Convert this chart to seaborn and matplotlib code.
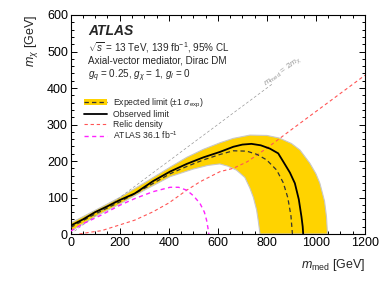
import numpy as np
import matplotlib
matplotlib.use('Agg')
import matplotlib.pyplot as plt
import seaborn as sns
from matplotlib.patches import Patch
from matplotlib.lines import Line2D

# Observed limit
obs_x = [0, 50, 100, 150, 200, 261, 336, 405, 473, 541, 609, 663, 700, 737, 775, 812, 846, 867, 894, 914, 930, 941, 946, 948]
obs_y = [23, 40, 60, 76, 93, 111, 145, 171, 192, 210, 225, 239, 245, 247, 243, 234, 221, 198, 168, 139, 95, 47, 20, 0]

# Expected limit
exp_x = [0, 100, 200, 300, 405, 473, 541, 609, 663, 718, 760, 799, 840, 867, 885, 898, 904]
exp_y = [18, 55, 88, 125, 165, 185, 203, 218, 228, 227, 218, 203, 175, 140, 100, 50, 0]

# +-1 sigma band: upper edge (left to right), lower edge (right to left)
band_up_x = [0, 100, 200, 300, 405, 473, 541, 609, 663, 731, 800, 850, 900, 935, 975, 1000, 1016, 1035, 1043, 1047]
band_up_y = [30, 65, 100, 140, 183, 210, 232, 250, 262, 271, 270, 263, 248, 230, 194, 165, 139, 90, 47, 0]
band_lo_x = [772, 765, 758, 745, 731, 710, 676, 640, 608, 560, 500, 405, 300, 200, 100, 0]
band_lo_y = [0, 35, 66, 100, 125, 155, 175, 186, 192, 188, 178, 157, 120, 82, 48, 8]

# Relic density
relic_x = [35, 80, 125, 200, 261, 336, 400, 473, 527, 609, 663, 720, 799, 894, 1200]
relic_y = [0, 5, 9, 25, 38, 61, 85, 120, 143, 171, 180, 198, 235, 283, 435]

# ATLAS 36.1 fb-1
old_x = [0, 50, 125, 201, 261, 336, 405, 440, 473, 500, 527, 545, 554, 560, 563]
old_y = [8, 28, 52, 79, 97, 116, 128, 128, 120, 105, 84, 60, 38, 15, 0]

# m_med = 2 m_chi line
diag_x = [0, 820]
diag_y = [0, 410]

sns.set_theme(style='ticks')
plt.rcParams['font.family'] = ['Liberation Sans', 'DejaVu Sans']
plt.rcParams['mathtext.fontset'] = 'custom'
plt.rcParams['mathtext.rm'] = 'Liberation Sans'
plt.rcParams['mathtext.it'] = 'Liberation Sans:italic'
plt.rcParams['mathtext.bf'] = 'Liberation Sans:bold'

YELLOW = '#FFD300'
RED = '#FF5555'
MAGENTA = '#FF22FF'

fig = plt.figure(figsize=(3.9, 2.83), dpi=100)
ax = fig.add_axes([0.1813, 0.1731, 0.7546, 0.7739])

# band
ax.fill(band_up_x + band_lo_x, band_up_y + band_lo_y, facecolor=YELLOW, edgecolor='#C8C8C8', linewidth=0.8, zorder=1)

sns.lineplot(x=diag_x, y=diag_y, ax=ax, color='#999999', linewidth=0.5, linestyle=(0, (4, 3)), sort=False, estimator=None, zorder=2)
sns.lineplot(x=relic_x, y=relic_y, ax=ax, color=RED, linewidth=0.8, linestyle=(0, (3, 2.5)), sort=False, estimator=None, zorder=3)
sns.lineplot(x=old_x, y=old_y, ax=ax, color=MAGENTA, linewidth=1.0, linestyle=(0, (3, 2.5)), sort=False, estimator=None, zorder=3)
sns.lineplot(x=exp_x, y=exp_y, ax=ax, color='#333333', linewidth=0.9, linestyle=(0, (3.5, 2.5)), sort=False, estimator=None, zorder=4)
sns.lineplot(x=obs_x, y=obs_y, ax=ax, color='black', linewidth=1.3, sort=False, estimator=None, zorder=5)

ax.text(866, 446, r'$m_{\rm med}$ = 2$m_\chi$', rotation=36.6, fontsize=6, color='#999999', ha='center', va='center', rotation_mode='anchor')

ax.set_xlim(0, 1200)
ax.set_ylim(0, 600)
ax.set_xticks(np.arange(0, 1201, 200))
ax.set_yticks(np.arange(0, 601, 100))
ax.set_xticks(np.arange(0, 1201, 50), minor=True)
ax.set_yticks(np.arange(0, 601, 20), minor=True)
ax.tick_params(which='both', direction='in', top=True, right=True, labelsize=9, width=0.7, colors='black')
ax.tick_params(which='major', length=4.5, pad=2)
ax.tick_params(which='minor', length=2.5)
for s in ax.spines.values():
    s.set_linewidth(0.8)
    s.set_color('black')

ax.set_xlabel(r'$m_{\rm med}$ [GeV]', fontsize=9, loc='right', labelpad=6)
ax.set_ylabel(r'$m_\chi$ [GeV]', fontsize=9, loc='top', labelpad=5)

ax.text(0.059, 0.929, 'ATLAS', transform=ax.transAxes, fontsize=10, fontweight='bold', fontstyle='italic', va='center', ha='left')
ax.text(0.059, 0.853, r'$\sqrt{s}$ = 13 TeV, 139 fb$^{-1}$, 95% CL', transform=ax.transAxes, fontsize=7.1, va='center', ha='left')
ax.text(0.059, 0.790, 'Axial-vector mediator, Dirac DM', transform=ax.transAxes, fontsize=7.1, va='center', ha='left')
ax.text(0.059, 0.721, r'$g_q$ = 0.25, $g_\chi$ = 1, $g_l$ = 0', transform=ax.transAxes, fontsize=7.1, va='center', ha='left')

handles = [
    (Patch(facecolor=YELLOW, edgecolor='none'), Line2D([], [], color='#333333', linewidth=0.9, linestyle=(0, (3.5, 2.5)))),
    Line2D([], [], color='black', linewidth=1.3),
    Line2D([], [], color=RED, linewidth=0.8, linestyle=(0, (3, 2.5))),
    Line2D([], [], color=MAGENTA, linewidth=1.0, linestyle=(0, (3, 2.5))),
]
labels = [r'Expected limit ($\pm$1 $\sigma_{\rm exp}$)', 'Observed limit', 'Relic density', r'ATLAS 36.1 fb$^{-1}$']
ax.legend(handles, labels, loc='upper left', bbox_to_anchor=(0.045, 0.628), frameon=False, fontsize=6.2,
          handlelength=2.67, handleheight=0.8, handletextpad=0.66, labelspacing=0.08, borderpad=0, borderaxespad=0)

fig.savefig('out.png', dpi=100)
